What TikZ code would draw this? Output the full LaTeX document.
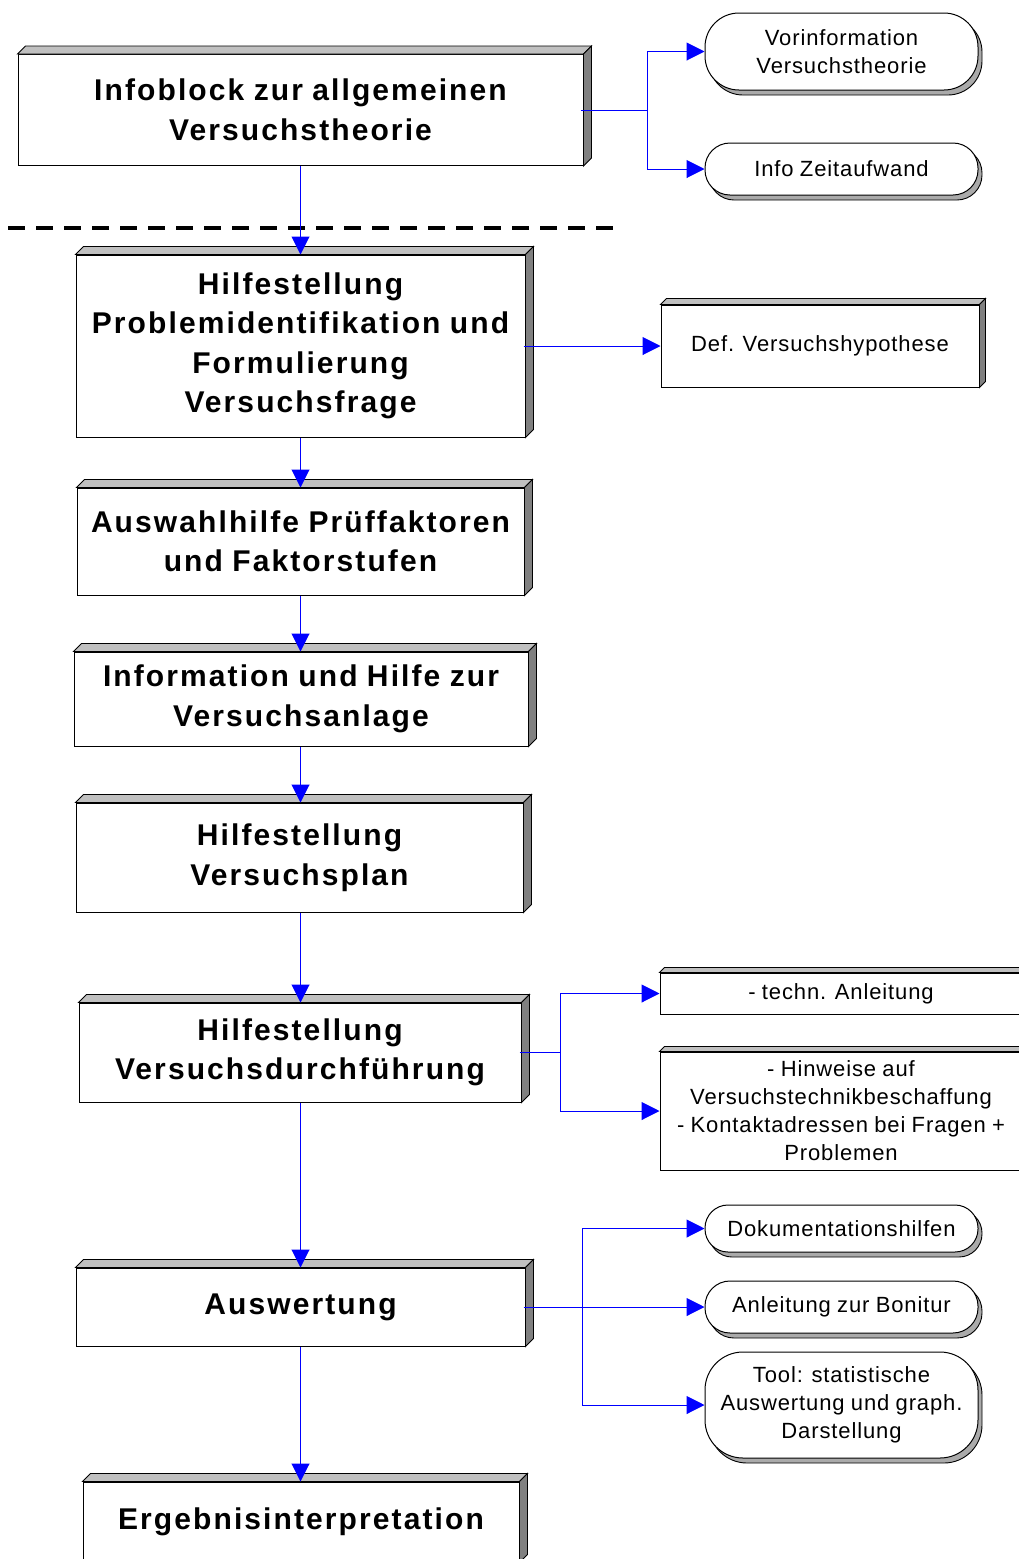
\documentclass[tikz,border=0pt]{standalone}
\usepackage{fontspec}
\setmainfont{Liberation Sans}
\newfontfamily\mainboxfont[LetterSpace=7,WordSpace=0.9]{Liberation Sans}
\newfontfamily\sideboxfont[LetterSpace=4,WordSpace=0.9]{Liberation Sans}
\usetikzlibrary{arrows.meta,shadows,calc}
\definecolor{topface}{RGB}{192,192,192}
\definecolor{sideface}{RGB}{128,128,128}
\definecolor{shadowgray}{RGB}{170,170,170}
\definecolor{linkblue}{RGB}{0,0,255}
\tikzset{
  mainbox/.style={draw=black, line width=1pt, fill=white, rectangle, inner sep=0pt, align=center,
    font=\mainboxfont\fontsize{30}{39.5}\selectfont\bfseries},
  sidebox/.style={draw=black, line width=1pt, fill=white, rectangle, inner sep=0pt, align=center,
    font=\sideboxfont\fontsize{22}{28}\selectfont},
  pillbox/.style={draw=black, line width=1pt, fill=white, rectangle, inner sep=0pt, align=center,
    font=\sideboxfont\fontsize{22}{28}\selectfont,
    copy shadow={shadow xshift=4pt, shadow yshift=-5pt, fill=shadowgray, draw=black, line width=0.9pt}},
  arr/.style={draw=linkblue, line width=1pt, -{Triangle[length=18pt,width=18pt]}},
  lnk/.style={draw=linkblue, line width=1pt},
  faceline/.style={draw=black, line width=0.9pt}
}
\newcommand{\faces}[2]{%
  \draw[faceline, fill=topface] (#1.north west) -- ++(#2,-#2) -- ([shift={(#2,-#2)}]#1.north east) -- (#1.north east) -- cycle;
  \draw[faceline, fill=sideface] (#1.north east) -- ++(#2,-#2) -- ([shift={(#2,-#2)}]#1.south east) -- (#1.south east) -- cycle;
}
\begin{document}
\begin{tikzpicture}[x=1pt,y=-1pt]
\useasboundingbox (0,0) rectangle (1018,1559);

% main chain
\node[mainbox, minimum width=565pt, minimum height=111pt] (b1) at (300.5,110) {Infoblock zur allgemeinen\\Versuchstheorie};
\faces{b1}{8}
\node[mainbox, minimum width=449pt, minimum height=182pt] (b2) at (300.5,346) {Hilfestellung\\Problemidentifikation und\\Formulierung\\Versuchsfrage};
\faces{b2}{8}
\node[mainbox, minimum width=447pt, minimum height=107pt] (b3) at (300.5,541.5) {Auswahlhilfe Prüffaktoren\\und Faktorstufen};
\faces{b3}{8}
\node[mainbox, minimum width=454pt, minimum height=94pt] (b4) at (301,699) {Information und Hilfe zur\\Versuchsanlage};
\faces{b4}{8}
\node[mainbox, minimum width=447pt, minimum height=109pt] (b5) at (299.5,857.5) {Hilfestellung\\Versuchsplan};
\faces{b5}{8}
\node[mainbox, minimum width=442pt, minimum height=99pt] (b6) at (300,1052.5) {Hilfestellung\\Versuchsdurchführung};
\faces{b6}{8}
\node[mainbox, minimum width=449pt, minimum height=78pt] (b7) at (300.5,1307) {Auswertung};
\faces{b7}{8}
\node[mainbox, minimum width=436pt, minimum height=80pt] (b8) at (301,1522) {Ergebnisinterpretation};
\faces{b8}{8}

% dashed separator
\draw[black, line width=4pt, dash pattern=on 17pt off 11pt] (8,228) -- (615,228);

% right-hand items
\node[pillbox, rounded corners=34pt, minimum width=273pt, minimum height=77pt] (v1) at (841.5,51.5) {Vorinformation\\Versuchstheorie};
\node[pillbox, rounded corners=25pt, minimum width=273pt, minimum height=52pt] (v2) at (841.5,169) {Info Zeitaufwand};
\node[sidebox, minimum width=318pt, minimum height=82pt] (d1) at (820,346) {Def. Versuchshypothese};
\faces{d1}{6}
\node[sidebox, minimum width=362pt, minimum height=41pt] (t1) at (841,993.5) {- techn. Anleitung};
\faces{t1}{5}
\node[sidebox, minimum width=362pt, minimum height=118pt] (t2) at (841,1111) {- Hinweise auf\\Versuchstechnikbeschaffung\\- Kontaktadressen bei Fragen +\\Problemen};
\faces{t2}{5}
\node[pillbox, rounded corners=23pt, minimum width=273pt, minimum height=47pt] (r1) at (841.5,1228.5) {Dokumentationshilfen};
\node[pillbox, rounded corners=25pt, minimum width=273pt, minimum height=52pt] (r2) at (841.5,1307) {Anleitung zur Bonitur};
\node[pillbox, rounded corners=38pt, minimum width=273pt, minimum height=106pt] (r3) at (841.5,1405) {Tool: statistische\\Auswertung und graph.\\Darstellung};

% junction points
\coordinate (j1) at ([xshift=64pt]b1.east);
\coordinate (j2) at ([xshift=39pt]b6.east);
\coordinate (j3) at ([xshift=57pt]b7.east);

% main connectors
\draw[arr] (b1.south) -- (b2.north);
\draw[arr] (b2.south) -- (b3.north);
\draw[arr] (b3.south) -- (b4.north -| b3.south);
\draw[arr] (b4.south -| b3.south) -- (b5.north -| b3.south);
\draw[arr] (b5.south -| b3.south) -- (b6.north -| b3.south);
\draw[arr] (b6.south -| b3.south) -- (b7.north -| b3.south);
\draw[arr] (b7.south -| b3.south) -- (b8.north -| b3.south);

% side connectors
\draw[lnk] ([xshift=-3pt]b1.east) -- (j1);
\draw[arr] (j1) |- (v1.west);
\draw[arr] (j1) |- (v2.west);
\draw[arr] ([xshift=-2pt]b2.east) -- (d1.west);
\draw[lnk] ([xshift=-2pt]b6.east) -- (j2);
\draw[arr] (j2) |- (t1.west);
\draw[arr] (j2) |- (t2.west);
\draw[arr] ([xshift=-2pt]b7.east) -- (r2.west);
\draw[arr] (j3) |- (r1.west);
\draw[arr] (j3) |- (r3.west);
\end{tikzpicture}
\end{document}
